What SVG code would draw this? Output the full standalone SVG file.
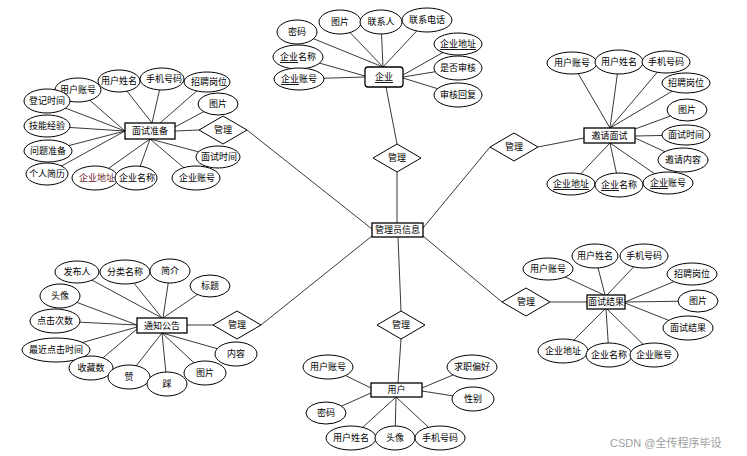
<svg xmlns="http://www.w3.org/2000/svg" width="747" height="456" viewBox="0 0 747 456">
<style>
text{font-family:"Liberation Sans","Noto Sans CJK SC",sans-serif;font-size:9px;fill:#000;text-anchor:middle;dominant-baseline:central}
.a{fill:#fff;stroke:#000;stroke-width:1}
.e{fill:#fff;stroke:#000;stroke-width:1.3}
.d{fill:#fff;stroke:#000;stroke-width:1}
.c{stroke:#222;stroke-width:0.9;fill:none}
.r{fill:#6b1d1d}
.u{text-decoration:underline}
.wm{font-size:11px;fill:#a0a0a0;text-anchor:start}
</style>
<rect width="747" height="456" fill="#fff"/>
<g id="connectors" class="c">
<!-- 面试准备 -->
<path d="M78,90L125,131M119,81L152,123M162,79L152,123M207,82L160,123M218,104L175,127M47,101L125,131M47,126L125,131M48,151L125,131M47,174L125,131M95,178L150,139M136,178L150,139M196,178L150,139M218,157L150,139"/>
<!-- 企业 -->
<path d="M297,32L383,67M340,22L383,67M381,22L383,67M427,20L383,67M298,57L365,76M299,79L365,77M458,44L403,75M458,68L403,77M458,95L403,78"/>
<!-- 邀请面试 -->
<path d="M572,63L610,128M619,62L610,128M666,62L610,128M686,83L610,128M687,110L635,129M686,135L635,136M683,160L635,138M571,184L610,143M619,185L610,143M668,183L610,143"/>
<!-- 通知公告 -->
<path d="M77,272L162,318M125,272L162,318M170,271L163,318M210,286L163,318M60,296L137,325M55,321L137,325M56,350L137,327M91,368L137,329M129,375L162,333M167,384L162,333M205,373L162,333M236,354L162,333"/>
<!-- 用户 -->
<path d="M328,367L371,388M326,413L371,393M472,367L422,388M473,399L422,391M351,438L396,397M395,438L396,397M440,438L396,397"/>
<!-- 面试结果 -->
<path d="M548,269L604,295M595,256L605,295M644,256L607,295M692,274L625,302M698,301L625,302M688,328L625,303M563,351L605,309M609,355L606,309M654,355L607,309"/>
<!-- relationships -->
<path d="M175,131L199,130M247,130L372,229M386,87L397,144M397,172L397,223M423,228L490,147M538,147L584,138M187,325L213,325M261,325L372,236M398,237L401,311M401,339L398,383M423,236L502,302M550,302L587,302"/>
</g>
<g id="admin"><rect class="e" x="372" y="223" width="51" height="14"/><text x="397.5" y="230">管理员信息</text></g>
<g id="rel-prep"><polygon class="d" points="199,130 223,116 247,130 223,144"/><text x="223" y="130">管理</text></g>
<g id="rel-company"><polygon class="d" points="373,158 397,144 421,158 397,172"/><text x="397" y="158">管理</text></g>
<g id="rel-invite"><polygon class="d" points="490,147 514,133 538,147 514,161"/><text x="514" y="147">管理</text></g>
<g id="rel-notice"><polygon class="d" points="213,325 237,311 261,325 237,339"/><text x="237" y="325">管理</text></g>
<g id="rel-user"><polygon class="d" points="377,325 401,311 425,325 401,339"/><text x="401" y="325">管理</text></g>
<g id="rel-result"><polygon class="d" points="502,302 526,288 550,302 526,316"/><text x="526" y="302">管理</text></g>

<g id="prep">
<rect class="e" x="125" y="123" width="50" height="16"/><text x="150" y="131">面试准备</text>
<ellipse class="a" cx="78" cy="90" rx="23" ry="12"/><text x="78" y="90">用户账号</text>
<ellipse class="a" cx="119" cy="81" rx="21" ry="11"/><text x="119" y="81">用户姓名</text>
<ellipse class="a" cx="207" cy="82" rx="23" ry="10"/><text x="209" y="82">招聘岗位</text>
<ellipse class="a" cx="162" cy="79" rx="22" ry="11"/><text x="164" y="79">手机号码</text>
<ellipse class="a" cx="218" cy="104" rx="20" ry="11"/><text x="218" y="104">图片</text>
<ellipse class="a" cx="47" cy="101" rx="23" ry="12"/><text x="47" y="101">登记时间</text>
<ellipse class="a" cx="47" cy="126" rx="23" ry="11"/><text x="47" y="126">技能经验</text>
<ellipse class="a" cx="48" cy="151" rx="24" ry="11"/><text x="48" y="151">问题准备</text>
<ellipse class="a" cx="95" cy="178" rx="23" ry="12"/><text class="r" x="97" y="178">企业地址</text>
<ellipse class="a" cx="47" cy="174" rx="21" ry="11"/><text x="47" y="174">个人简历</text>
<ellipse class="a" cx="136" cy="178" rx="21" ry="12"/><text x="137" y="178">企业名称</text>
<ellipse class="a" cx="196" cy="178" rx="24" ry="12"/><text x="197" y="178">企业账号</text>
<ellipse class="a" cx="218" cy="157" rx="22" ry="11"/><text x="219" y="157">面试时间</text>
</g>

<g id="company">
<rect class="e" x="365" y="67" width="38" height="20" rx="3"/><text class="u" x="384" y="77">企业</text>
<ellipse class="a" cx="297" cy="32" rx="20" ry="12"/><text x="297" y="32">密码</text>
<ellipse class="a" cx="340" cy="22" rx="21" ry="12"/><text x="340" y="22">图片</text>
<ellipse class="a" cx="381" cy="22" rx="21" ry="12"/><text x="381" y="22">联系人</text>
<ellipse class="a" cx="427" cy="20" rx="25" ry="12"/><text x="427" y="20">联系电话</text>
<ellipse class="a" cx="298" cy="57" rx="25" ry="12"/><text x="298" y="57"><tspan class="u">企业</tspan>名称</text>
<ellipse class="a" cx="299" cy="79" rx="25" ry="11"/><text x="299" y="79"><tspan class="u">企业</tspan>账号</text>
<ellipse class="a" cx="458" cy="44" rx="24" ry="11"/><text class="u" x="458" y="44">企业地址</text>
<ellipse class="a" cx="458" cy="68" rx="24" ry="12"/><text x="458" y="68">是否审核</text>
<ellipse class="a" cx="458" cy="95" rx="24" ry="12"/><text x="458" y="95">审核回复</text>
</g>

<g id="invite">
<rect class="e" x="584" y="128" width="51" height="15"/><text x="609.5" y="135.5">邀请面试</text>
<ellipse class="a" cx="572" cy="63" rx="25" ry="11"/><text x="572" y="63">用户账号</text>
<ellipse class="a" cx="619" cy="62" rx="24" ry="12"/><text x="619" y="62">用户姓名</text>
<ellipse class="a" cx="666" cy="62" rx="24" ry="11"/><text x="666" y="62">手机号码</text>
<ellipse class="a" cx="686" cy="83" rx="24" ry="10"/><text x="686" y="83">招聘岗位</text>
<ellipse class="a" cx="687" cy="110" rx="20" ry="11"/><text x="687" y="110">图片</text>
<ellipse class="a" cx="686" cy="135" rx="24" ry="10"/><text x="686" y="135">面试时间</text>
<ellipse class="a" cx="683" cy="160" rx="25" ry="12"/><text x="683" y="160">邀请内容</text>
<ellipse class="a" cx="571" cy="184" rx="24" ry="11"/><text class="u" x="571" y="184">企业地址</text>
<ellipse class="a" cx="619" cy="185" rx="24" ry="12"/><text x="619" y="185"><tspan class="u">企业</tspan>名称</text>
<ellipse class="a" cx="668" cy="183" rx="25" ry="11"/><text x="668" y="183"><tspan class="u">企业</tspan>账号</text>
</g>

<g id="notice">
<rect class="e" x="137" y="318" width="50" height="15"/><text x="162" y="325.5">通知公告</text>
<ellipse class="a" cx="77" cy="272" rx="22" ry="11"/><text x="77" y="272">发布人</text>
<ellipse class="a" cx="125" cy="272" rx="25" ry="12"/><text x="125" y="272">分类名称</text>
<ellipse class="a" cx="170" cy="271" rx="20" ry="12"/><text x="170" y="271">简介</text>
<ellipse class="a" cx="210" cy="286" rx="20" ry="11"/><text x="210" y="286">标题</text>
<ellipse class="a" cx="60" cy="296" rx="20" ry="12"/><text x="60" y="296">头像</text>
<ellipse class="a" cx="55" cy="321" rx="25" ry="12"/><text x="55" y="321">点击次数</text>
<ellipse class="a" cx="56" cy="350" rx="34" ry="12"/><text x="56" y="350">最近点击时间</text>
<ellipse class="a" cx="91" cy="368" rx="22" ry="12"/><text x="91" y="368">收藏数</text>
<ellipse class="a" cx="129" cy="377" rx="21" ry="12"/><text x="129" y="377">赞</text>
<ellipse class="a" cx="167" cy="384" rx="20" ry="12"/><text x="167" y="384">踩</text>
<ellipse class="a" cx="205" cy="373" rx="21" ry="12"/><text x="205" y="373">图片</text>
<ellipse class="a" cx="236" cy="354" rx="21" ry="12"/><text x="236" y="354">内容</text>
</g>

<g id="user">
<rect class="e" x="371" y="383" width="51" height="14"/><text x="396.5" y="390">用户</text>
<ellipse class="a" cx="328" cy="367" rx="25" ry="12"/><text x="328" y="367">用户账号</text>
<ellipse class="a" cx="326" cy="413" rx="20" ry="11"/><text x="326" y="413">密码</text>
<ellipse class="a" cx="351" cy="438" rx="25" ry="12"/><text x="351" y="438">用户姓名</text>
<ellipse class="a" cx="395" cy="438" rx="20" ry="12"/><text x="395" y="438">头像</text>
<ellipse class="a" cx="440" cy="438" rx="25" ry="12"/><text x="440" y="438">手机号码</text>
<ellipse class="a" cx="472" cy="367" rx="25" ry="12"/><text x="472" y="367">求职偏好</text>
<ellipse class="a" cx="473" cy="399" rx="21" ry="12"/><text x="473" y="399">性别</text>
</g>

<g id="result">
<rect class="e" x="587" y="295" width="38" height="14"/><text x="606" y="302">面试结果</text>
<ellipse class="a" cx="548" cy="269" rx="25" ry="11"/><text x="548" y="269">用户账号</text>
<ellipse class="a" cx="595" cy="256" rx="23" ry="12"/><text x="595" y="256">用户姓名</text>
<ellipse class="a" cx="644" cy="256" rx="24" ry="12"/><text x="644" y="256">手机号码</text>
<ellipse class="a" cx="692" cy="274" rx="25" ry="11"/><text x="692" y="274">招聘岗位</text>
<ellipse class="a" cx="698" cy="301" rx="20" ry="11"/><text x="698" y="301">图片</text>
<ellipse class="a" cx="688" cy="328" rx="25" ry="12"/><text x="688" y="328">面试结果</text>
<ellipse class="a" cx="563" cy="351" rx="25" ry="12"/><text x="563" y="351">企业地址</text>
<ellipse class="a" cx="609" cy="355" rx="23" ry="12"/><text x="609" y="355">企业名称</text>
<ellipse class="a" cx="654" cy="355" rx="24" ry="12"/><text x="654" y="355">企业账号</text>
</g>

<text class="wm" x="610" y="443">CSDN @全传程序毕设</text>
</svg>
